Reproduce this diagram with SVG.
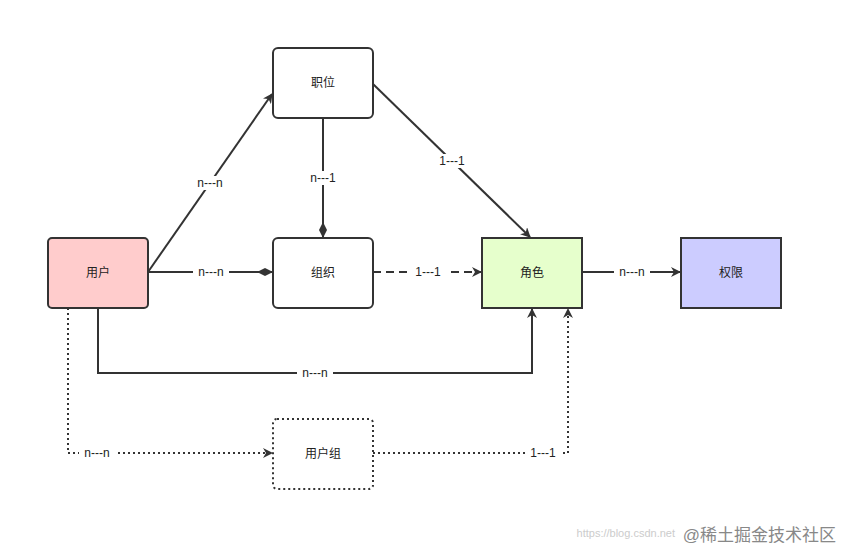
<svg xmlns="http://www.w3.org/2000/svg" width="843" height="551" viewBox="0 0 843 551">
<style>
.n{stroke:#333;stroke-width:2}
.t{font-family:"Liberation Sans","Noto Sans CJK SC",sans-serif;font-size:12px;fill:#222;text-anchor:middle;dominant-baseline:central}
.c{fill:none;stroke:#333;stroke-width:2}
.lb{fill:#fff}
</style>
<defs>
<marker id="a" viewBox="0 0 10 10" refX="9" refY="5" markerWidth="5" markerHeight="5" orient="auto"><path d="M0,0L10,5L0,10L3,5z" fill="#333"/></marker>
<marker id="d" viewBox="0 0 16 8" refX="15" refY="4" markerWidth="8" markerHeight="4" orient="auto"><path d="M0,4L8,0L16,4L8,8z" fill="#333"/></marker>
</defs>
<rect width="843" height="551" fill="#fff"/>
<g id="edges">
<path class="c" d="M148,272L272,94" marker-end="url(#a)"/>
<path class="c" d="M323,118V237" marker-end="url(#d)"/>
<path class="c" d="M373,84L530,237" marker-end="url(#a)"/>
<path class="c" d="M148,272H272" marker-end="url(#d)"/>
<path class="c" d="M373,272H481" stroke-dasharray="8 5" marker-end="url(#a)"/>
<path class="c" d="M582,272H680" marker-end="url(#a)"/>
<path class="c" d="M98,308V373H532V309" marker-end="url(#a)"/>
<path class="c" d="M68,308V453H272" stroke-dasharray="2 3" marker-end="url(#a)"/>
<path class="c" d="M373,453H568V309" stroke-dasharray="2 3" marker-end="url(#a)"/>
<rect class="lb" x="193" y="176" width="34" height="14"/><text class="t" x="210" y="183">n---n</text>
<rect class="lb" x="305" y="171" width="36" height="14"/><text class="t" x="323" y="178">n---1</text>
<rect class="lb" x="435" y="154" width="34" height="14"/><text class="t" x="452" y="161">1---1</text>
<rect class="lb" x="193" y="265" width="36" height="14"/><text class="t" x="211" y="272">n---n</text>
<rect class="lb" x="410" y="265" width="36" height="14"/><text class="t" x="428" y="272">1---1</text>
<rect class="lb" x="614" y="265" width="36" height="14"/><text class="t" x="632" y="272">n---n</text>
<rect class="lb" x="297" y="366" width="36" height="14"/><text class="t" x="315" y="373">n---n</text>
<rect class="lb" x="79" y="446" width="36" height="14"/><text class="t" x="97" y="453">n---n</text>
<rect class="lb" x="525" y="446" width="36" height="14"/><text class="t" x="543" y="453">1---1</text>
</g>
<g id="zhiwei"><rect class="n" x="273" y="48" width="100" height="70" rx="5" fill="#fff"/><text class="t" x="323" y="83">职位</text></g>
<g id="yonghu"><rect class="n" x="48" y="238" width="100" height="70" rx="4" fill="#ffcccc"/><text class="t" x="98" y="273">用户</text></g>
<g id="zuzhi"><rect class="n" x="273" y="238" width="100" height="70" rx="5" fill="#fff"/><text class="t" x="323" y="273">组织</text></g>
<g id="juese"><rect class="n" x="482" y="238" width="100" height="70" fill="#e6ffcc"/><text class="t" x="532" y="273">角色</text></g>
<g id="quanxian"><rect class="n" x="681" y="238" width="100" height="70" fill="#ccccff"/><text class="t" x="731" y="273">权限</text></g>
<g id="yonghuzu"><rect class="n" x="273" y="419" width="100" height="70" rx="4" fill="#fff" stroke-dasharray="2 3"/><text class="t" x="323" y="454">用户组</text></g>
<text x="675" y="537" font-family="Liberation Sans,Noto Sans CJK SC,sans-serif" font-size="11" fill="#ccc" text-anchor="end">https://blog.csdn.net</text>
<text x="836" y="541" font-family="Liberation Sans,Noto Sans CJK SC,sans-serif" font-size="17" fill="#888" text-anchor="end">@稀土掘金技术社区</text>
</svg>
